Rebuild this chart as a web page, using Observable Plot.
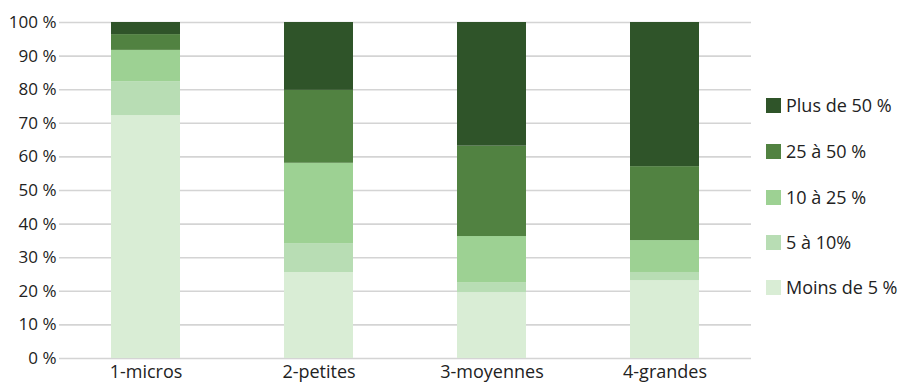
<!DOCTYPE html>
<html>
<head>
<meta charset="utf-8">
<script src="https://cdn.jsdelivr.net/npm/d3@7"></script>
<script src="https://cdn.jsdelivr.net/npm/@observablehq/plot@0.6"></script>
<style>
  html, body { margin: 0; padding: 0; background: #fff; }
  #wrap { position: relative; width: 904px; height: 383px; font-family: "Open Sans", sans-serif; }
  #legend { position: absolute; left: 766px; top: 0; }
  .item { position: absolute; left: 0; display: flex; align-items: center; white-space: nowrap; font-size: 18px; color: #222; }
  .sw { width: 15px; height: 15px; margin-right: 5px; flex: none; }
</style>
</head>
<body>
<div id="wrap"><div id="legend"></div></div>
<script>
const categories = ["1-micros", "2-petites", "3-moyennes", "4-grandes"];
const series = ["Moins de 5 %", "5 à 10%", "10 à 25 %", "25 à 50 %", "Plus de 50 %"];
const colors = ["#d9edd5", "#b8ddb4", "#9dd193", "#518241", "#2f5429"];
const moins5 = [72.3, 25.6, 19.6, 23.2];
const de5a10 = [10.1, 8.6, 3.0, 2.4];
const de10a25 = [9.3, 23.9, 13.7, 9.5];
const de25a50 = [4.7, 21.7, 26.9, 22.0];
const plus50 = [3.6, 20.2, 36.8, 42.9];
const yTicks = [0, 10, 20, 30, 40, 50, 60, 70, 80, 90, 100];

const valuesBySeries = [moins5, de5a10, de10a25, de25a50, plus50];
const data = [];
series.forEach((s, i) => categories.forEach((c, j) => data.push({cat: c, serie: s, value: valuesBySeries[i][j]})));

const chart = Plot.plot({
  width: 904,
  height: 383,
  marginLeft: 59,
  marginRight: 153,
  marginTop: 22,
  marginBottom: 25,
  style: {fontFamily: "'Open Sans', sans-serif", fontSize: "17px", color: "#222", background: "#fff"},
  x: {domain: categories, paddingInner: 0.6, paddingOuter: 0.3, label: null, tickSize: 0, tickPadding: 5},
  y: {domain: [0, 100], ticks: yTicks, label: null, tickSize: 0, tickPadding: 2, tickFormat: d => d + " %"},
  color: {domain: series, range: colors},
  marks: [
    Plot.ruleY(yTicks, {stroke: "#d4d4d4", strokeWidth: 1.6}),
    Plot.barY(data, {x: "cat", y: "value", fill: "serie", order: series}),
    Plot.axisY({ticks: yTicks, tickSize: 0, tickPadding: 3, tickFormat: d => d + " %", fontSize: 17}),
    Plot.axisX({tickSize: 0, tickPadding: 7, fontSize: 18})
  ]
});
document.getElementById("wrap").prepend(chart);

const legend = document.getElementById("legend");
const tops = [105, 151, 197, 242, 287];
series.slice().reverse().forEach((s, i) => {
  const it = document.createElement("div");
  it.className = "item";
  it.style.top = (tops[i] - 12) + "px";
  it.style.height = "24px";
  const sw = document.createElement("span");
  sw.className = "sw";
  sw.style.background = colors[series.length - 1 - i];
  const t = document.createElement("span");
  t.textContent = s;
  it.append(sw, t);
  legend.append(it);
});
</script>
</body>
</html>
